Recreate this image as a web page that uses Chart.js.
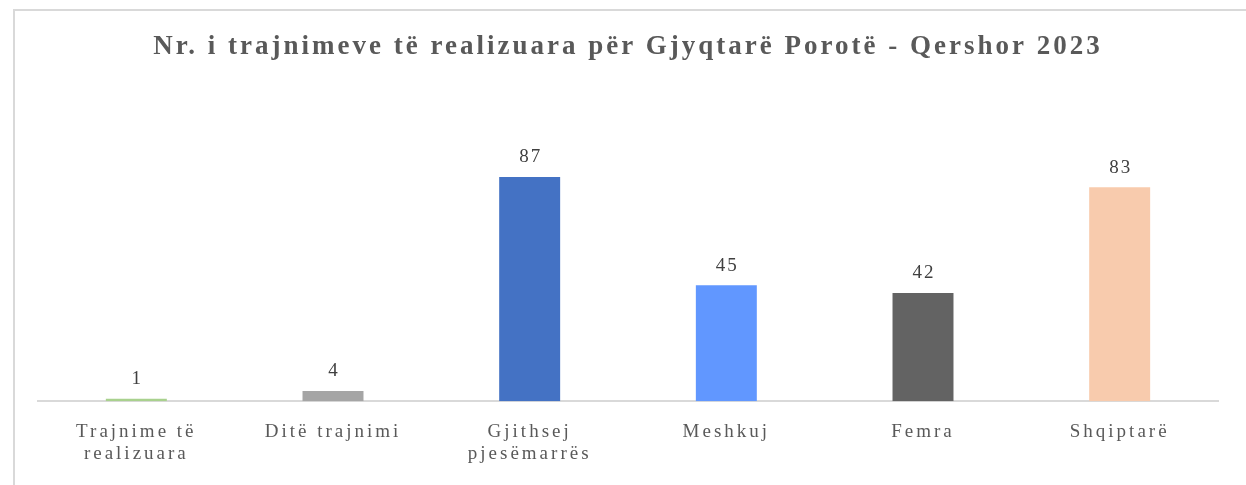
<!DOCTYPE html>
<html>
<head>
<meta charset="utf-8">
<script src="https://cdn.jsdelivr.net/npm/chart.js@4"></script>
<style>
  html, body { margin: 0; padding: 0; background: #fff; }
  #frame {
    position: absolute; left: 13px; top: 9px; width: 1260px; height: 500px;
    border: 2px solid #d9d9d9; box-sizing: border-box;
  }
  #wrap { position: absolute; left: 0; top: 0; width: 1246px; height: 485px; }
</style>
</head>
<body>
<div id="frame"></div>
<div id="wrap"><canvas id="trainingChart"></canvas></div>
<script>
// data
const categories = [
  ["Trajnime të", "realizuara"],
  "Ditë trajnimi",
  ["Gjithsej", "pjesëmarrës"],
  "Meshkuj",
  "Femra",
  "Shqiptarë"
];
const values = [1, 4, 87, 45, 42, 83];
const barColors = ["#a9d18e", "#a5a5a5", "#4472c4", "#6197ff", "#636363", "#f8cbad"];

const titleText = "Nr. i trajnimeve të realizuara për Gjyqtarë Porotë - Qershor 2023";

// the original text looks stretched sideways, so spread letters a bit
const wideText = {
  id: "wideText",
  beforeDraw(chart) {
    chart.ctx.letterSpacing = "3px";
  }
};

// value labels above each bar
const valueLabels = {
  id: "valueLabels",
  afterDatasetsDraw(chart) {
    const ctx = chart.ctx;
    const meta = chart.getDatasetMeta(0);
    ctx.save();
    ctx.letterSpacing = "2px";
    ctx.font = "19px 'Liberation Serif', 'Times New Roman', serif";
    ctx.fillStyle = "#404040";
    ctx.textAlign = "center";
    ctx.textBaseline = "bottom";
    meta.data.forEach((bar, i) => {
      ctx.fillText(String(values[i]), bar.x + 1, bar.y - 10);
    });
    ctx.restore();
  }
};

document.addEventListener("DOMContentLoaded", () => {
  const el = document.getElementById("trainingChart");

  new Chart(el, {
    type: "bar",
    data: {
      labels: categories,
      datasets: [
        {
          data: values,
          backgroundColor: barColors,
          borderWidth: 0,
          categoryPercentage: 1,
          barPercentage: 0.31,
        },
      ],
    },
    options: {
      responsive: true,
      maintainAspectRatio: false,
      animation: false,
      layout: {
        padding: { left: 38, right: 28, top: 0, bottom: 0 },
      },
      scales: {
        x: {
          grid: { display: false, drawTicks: false },
          border: { display: true, color: "#d9d9d9", width: 2 },
          ticks: {
            color: "#595959",
            padding: 20,
            maxRotation: 0,
            autoSkip: false,
            font: { family: "'Liberation Serif', 'Times New Roman', serif", size: 19, lineHeight: 1.15 },
          },
        },
        y: {
          display: false,
          min: 0,
          max: 100,
        },
      },
      plugins: {
        legend: { display: false },
        tooltip: { enabled: false },
        title: {
          display: true,
          text: titleText,
          color: "#595959",
          padding: { top: 31, bottom: 80 },
          font: { family: "'Liberation Serif', 'Times New Roman', serif", size: 27, weight: "bold", lineHeight: 1.2 },
        },
      },
    },
    plugins: [wideText, valueLabels],
  });
});
</script>
</body>
</html>
